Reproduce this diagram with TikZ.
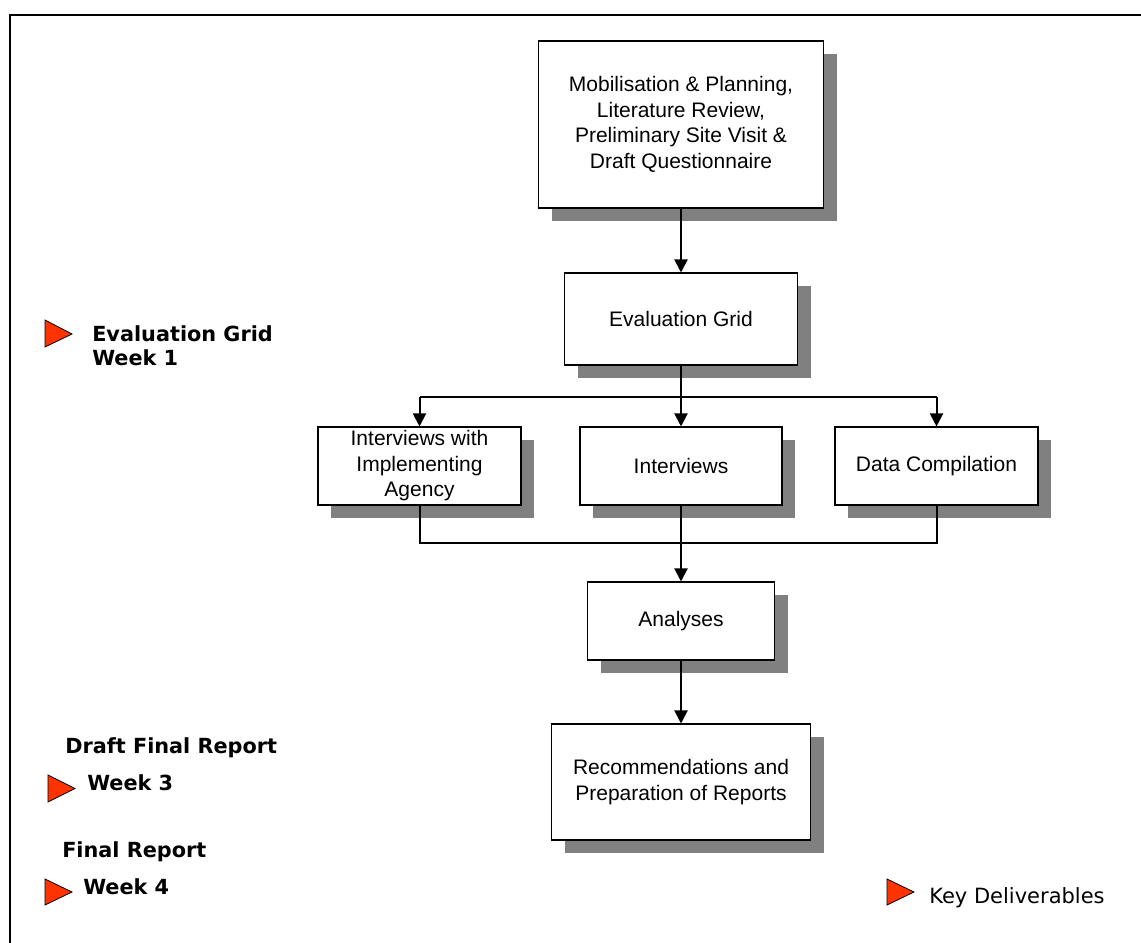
\documentclass[tikz,border=0pt]{standalone}
\usepackage{fontspec}
\setmainfont{Liberation Sans}
\newfontfamily\vfont{DejaVu Sans}
\usetikzlibrary{arrows.meta,shadows}
\definecolor{markerred}{RGB}{255,51,0}
\definecolor{shadowgray}{RGB}{128,128,128}
\begin{document}
\begin{tikzpicture}[x=0.75pt,y=-0.75pt,
  stepbox/.style={draw=black, line width=0.8pt, fill=white, inner sep=0pt, align=center,
     font=\fontsize{15.75}{19.1}\selectfont,
     drop shadow={shadow xshift=9.75pt, shadow yshift=-9.75pt, fill=shadowgray, opacity=1}},
  conn/.style={line width=1.5pt},
  arr/.style={conn, -{Triangle[length=9.75pt,width=9.75pt]}},
  lbl/.style={inner sep=0pt, anchor=base west, font=\vfont\bfseries\fontsize{15.6}{18}\selectfont},
  marker/.style={draw=black, line width=0.6pt, fill=markerred, line join=miter}]
\useasboundingbox (0,0) rectangle (1141,942);
\clip (0,0) rectangle (1141,942);
% frame
\draw[line width=1.5pt] (10,15) rectangle (1170,980);
% boxes
\node[stepbox, minimum width=213.75pt, minimum height=125.25pt] (mob) at (681,124.5)
  {Mobilisation \& Planning,\\Literature Review,\\Preliminary Site Visit \&\\Draft Questionnaire};
\node[stepbox, minimum width=174.75pt, minimum height=69pt] (eval) at (681,319) {Evaluation Grid};
\node[stepbox, minimum width=152.25pt, minimum height=58.5pt] (ia) at (419.5,466)
  {Interviews with\\Implementing\\Agency};
\node[stepbox, minimum width=151.5pt, minimum height=58.5pt] (int) at (681,466) {Interviews};
\node[stepbox, minimum width=152.25pt, minimum height=58.5pt] (dc) at (936.5,466) {Data Compilation};
\node[stepbox, minimum width=140.25pt, minimum height=58.5pt] (ana) at (681,621) {Analyses};
\node[stepbox, minimum width=194.25pt, minimum height=87pt] (rec) at (681,782)
  {Recommendations and\\Preparation of Reports};
% connectors
\coordinate (split) at (681,397);
\coordinate (merge) at (681,543);
\draw[arr] (mob) -- (eval);
\draw[arr] (eval) -- (int);
\draw[conn] (ia.north |- split) -- (dc.north |- split);
\draw[arr] (ia.north |- split) -- (ia.north);
\draw[arr] (dc.north |- split) -- (dc.north);
\draw[conn] (ia.south) -- (ia.south |- merge) -- (dc.south |- merge) -- (dc.south);
\draw[arr] (int) -- (ana);
\draw[arr] (ana) -- (rec);
% markers
\draw[marker] (45,320) -- (72,334) -- (45,347) -- cycle;
\draw[marker] (48,775) -- (75,788.5) -- (48,802) -- cycle;
\draw[marker] (45,879) -- (72,892) -- (45,905) -- cycle;
\draw[marker] (887,879) -- (914,892) -- (887,905) -- cycle;
% labels
\node[lbl] (lg) at (92,341) {Evaluation Grid};
\node[lbl] (lw1) at (92,365) {Week 1};
\node[lbl] (ldf) at (65,753) {Draft Final Report};
\node[lbl] (lw3) at (87,790) {Week 3};
\node[lbl] (lfr) at (62,857) {Final Report};
\node[lbl] (lw4) at (83,894) {Week 4};
\node[lbl, font=\vfont\fontsize{15.75}{18}\selectfont] (kd) at (929,903) {Key Deliverables};
\end{tikzpicture}
\end{document}
